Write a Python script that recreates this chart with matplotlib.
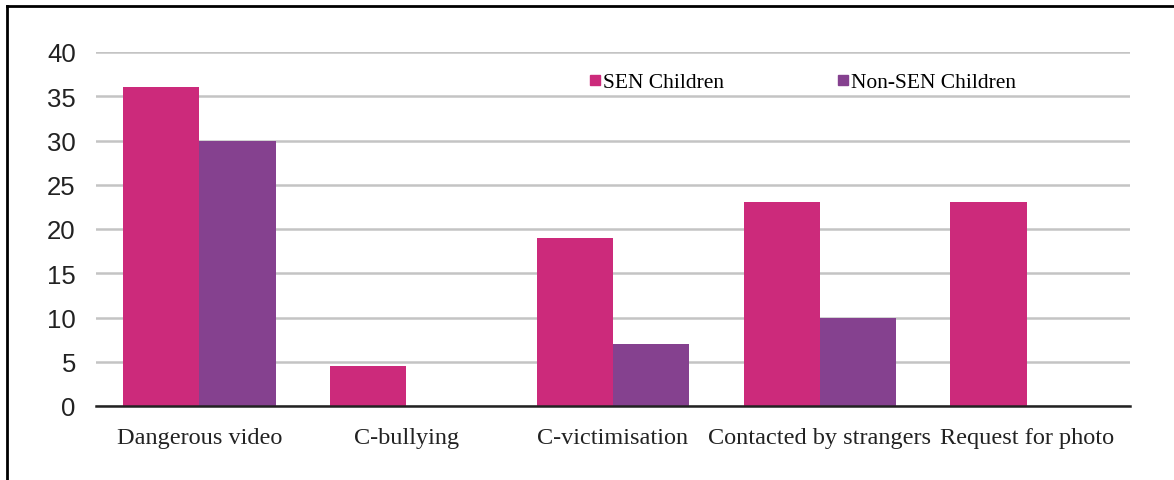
import matplotlib
matplotlib.use("Agg")
import matplotlib.pyplot as plt
import numpy as np
from matplotlib.lines import Line2D

categories = ["Dangerous video", "C-bullying", "C-victimisation",
              "Contacted by strangers", "Request for photo"]
sen_values = [36, 4.5, 19, 23, 23]
non_sen_values = [30, 0, 7, 10, 0]
series_names = ["SEN Children", "Non-SEN Children"]
y_ticks = [0, 5, 10, 15, 20, 25, 30, 35, 40]

sen_color = "#CC2A7B"
non_color = "#85418F"

fig = plt.figure(figsize=(11.74, 4.81), dpi=100)
ax = fig.add_axes([96/1174, 1 - 407/481, (1130-96)/1174, (407-53)/481])

x = np.arange(len(categories))
w = 0.368
ax.bar(x - w/2, sen_values, w, color=sen_color, label=series_names[0], zorder=3)
ax.bar(x + w/2, non_sen_values, w, color=non_color, label=series_names[1], zorder=3)

ax.set_xlim(-0.5, len(categories) - 0.5)
ax.set_ylim(0, 40)
ax.set_yticks(y_ticks)
ax.set_yticklabels([str(t) for t in y_ticks], family="Liberation Sans", fontsize=18.5, color="#222222")
ax.yaxis.grid(True, color="#c4c4c4", linewidth=1.8, zorder=0)
ax.tick_params(axis="y", length=0, pad=14.5)
ax.tick_params(axis="x", length=0, pad=15)
ax.set_xticks(x)
ax.set_xticklabels(categories, family="Liberation Serif", fontsize=17.5, color="#222222")
for s in ["top", "right", "left"]:
    ax.spines[s].set_visible(False)
ax.spines["bottom"].set_color("#222222")
ax.spines["bottom"].set_linewidth(1.8)
ax.spines["bottom"].set_zorder(4)

handles = [Line2D([], [], marker="s", linestyle="none", markersize=7, color=sen_color),
           Line2D([], [], marker="s", linestyle="none", markersize=7, color=non_color)]
ax.legend(handles, series_names, ncol=2, loc="center left",
          bbox_to_anchor=((590-96)/1034, (407-83)/354), frameon=False,
          prop={"family": "Liberation Serif", "size": 15.5},
          handlelength=0.5, handletextpad=0.1, columnspacing=5.3,
          borderpad=0, borderaxespad=0)

# outer frame lines (top and left)
fig.add_artist(Line2D([7/1174, 1], [1 - 7/481, 1 - 7/481], transform=fig.transFigure,
                      color="black", linewidth=2))
fig.add_artist(Line2D([7/1174, 7/1174], [0, 1 - 7/481], transform=fig.transFigure,
                      color="black", linewidth=2))

fig.savefig("out.png", dpi=100)
